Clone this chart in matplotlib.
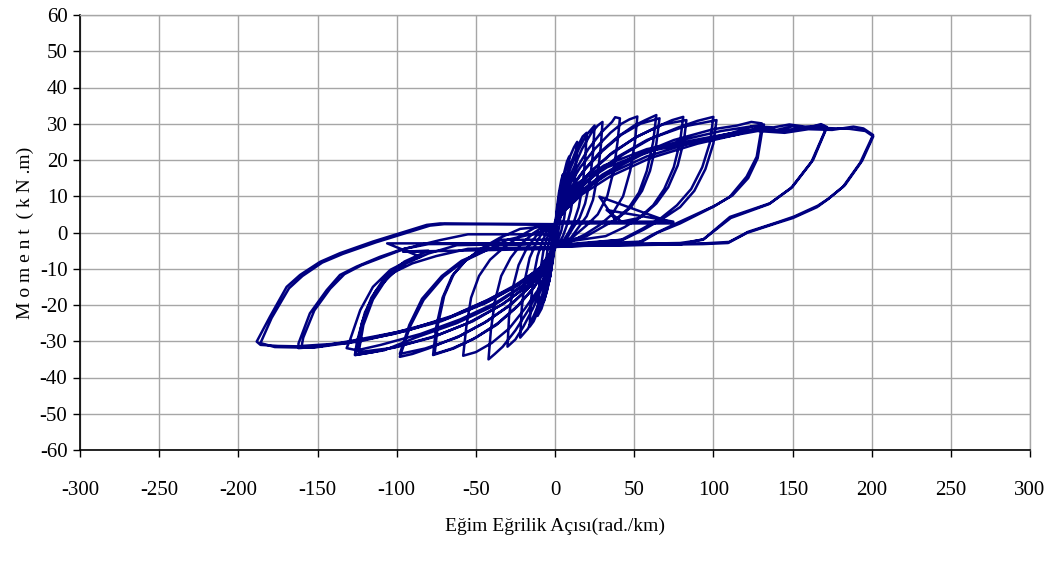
import matplotlib
matplotlib.use("Agg")
import matplotlib.pyplot as plt

# Moment-curvature record, one list of (curvature, moment) vertices per load cycle.
# Curvature in rad/km, moment in kN.m.
start = [(0, 0)]
c01 = [(1, 6), (2.5, 11), (4, 14.5), (5, 16), (4.6, 11), (3.8, 6), (2.8, 2), (1.5, -1), (0, -2.5),
       (-1, -6), (-2.5, -10.5), (-3.5, -13), (-4, -14), (-3.6, -9), (-2.8, -5), (-1.8, -1.5), (-0.8, 1), (0, 2)]
c02 = [(1, 5), (3, 11), (5.5, 16), (7.5, 19.5), (9, 21), (8.5, 15), (7.3, 9), (5.8, 4), (4, 0.5), (2, -2), (0, -3),
       (-1.5, -7), (-3, -12), (-5, -16), (-6.3, -18), (-7, -19), (-6.6, -13), (-5.7, -8), (-4.3, -3.5), (-2.5, 0),
       (-1, 1.5), (0, 2)]
c03 = [(1, 4), (3, 10), (6, 16), (9, 20.5), (12, 23.5), (14, 25), (13.3, 19), (12, 12), (10, 6), (7.5, 2), (5, -1),
       (2.5, -3), (0, -3.5), (-1.5, -8), (-3.5, -13), (-6, -17.5), (-8.5, -21), (-11, -23), (-10.4, -17),
       (-9.2, -10.5), (-7.5, -5.5), (-5.5, -2), (-3, 0.8), (0, 2)]
c04 = [(1, 4), (3, 9), (6, 14), (10, 19), (14, 23.5), (17.5, 26.5), (20, 27.5), (19.2, 21), (17.5, 13), (15, 7),
       (12, 3), (8.5, 0), (5, -2.5), (0, -3.5), (-1.5, -7), (-4, -12.5), (-7, -17), (-10.5, -21.5), (-13.5, -24.5),
       (-16, -26), (-15.2, -19), (-13.5, -12), (-11, -6.5), (-8, -2.5), (-5, 0.5), (-2, 2), (0, 2.3)]
c05 = [(1, 4), (3, 8), (6, 13), (10, 18), (15, 23), (20, 27), (25, 29.5), (24, 22), (22, 14), (19, 8), (15.5, 4),
       (11, 1), (7, -2), (0, -3), (-2, -7), (-4.5, -12), (-8, -17), (-12.5, -22), (-17, -26.5), (-22, -29),
       (-21, -21), (-19, -13), (-16, -7), (-12, -3), (-8, 0), (-4, 2), (0, 2.2)]
c06 = [(1, 3), (3, 8), (7, 13), (12, 18), (17, 23), (23, 27.5), (27, 29.5), (30, 30.5), (29, 24), (27, 16), (24, 9),
       (20, 4.5), (15, 1.5), (10, -1.5), (5, -3), (0, -3.5), (-2, -6), (-5, -11), (-9, -16), (-14, -21), (-20, -26),
       (-25, -29.5), (-30, -31.5), (-29, -23), (-26.5, -15), (-23, -9), (-18, -4.5), (-12, -1), (-6, 1.5), (0, 2.3)]
c07 = [(1, 3), (3.5, 8), (8, 13), (14, 18), (21, 23), (29, 27.5), (36, 30.5), (38, 31.8), (41, 31.5), (39.5, 25),
       (37, 17), (33, 10), (27, 5), (20, 2), (12, -1), (6, -3), (0, -3.5), (-2, -6), (-5, -11), (-10, -16),
       (-17, -21.5), (-25, -27), (-33, -31.5), (-38, -33.5), (-42, -35), (-40.5, -27), (-38, -19), (-34, -12),
       (-28, -7), (-21, -3), (-13, 0), (-6, 2), (0, 2.3)]
c08 = [(1, 3), (4, 8), (9, 13), (16, 18), (25, 23), (35, 27.5), (42, 30), (47, 31.2), (52, 32), (50.5, 25),
       (47.5, 17), (43, 10), (36, 5), (28, 2), (19, -0.5), (10, -2.5), (0, -3), (-2, -6), (-5, -10.5), (-11, -16),
       (-19, -21), (-29, -26.5), (-40, -30.5), (-50, -33), (-58, -34), (-56, -26), (-53, -18), (-48, -12),
       (-41, -7.5), (-32, -4), (-22, -1), (-12, 1.5), (0, 2.2)]
c09 = [(1, 3), (4, 7), (10, 12), (18, 17), (28, 22), (40, 26.5), (50, 29.5), (57, 31), (64, 32.4), (62, 25),
       (58, 17), (53, 11), (46, 6.5), (38, 3.5), (28, 9.9), (75, 2.5), (0, 2.5), (-2, -5.5), (-6, -10), (-13, -15),
       (-23, -20), (-36, -25), (-50, -29), (-64, -32), (-77, -33.8), (-75, -26), (-71, -18), (-65, -12), (-57, -8),
       (-47, -4.5), (-35, -1.5), (-22, 1), (0, 2)]
c09b = [(1, 3), (4, 7.5), (10, 12.5), (19, 17.5), (30, 22.5), (42, 27), (54, 30), (66, 31.5), (64, 24.5),
        (60, 17), (55, 11.5), (48, 7), (40, 4), (30, 1.5), (20, -1), (0, -3), (-2, -6), (-6, -10.5), (-14, -15.5),
        (-24, -20.5), (-37, -25.5), (-52, -29.5), (-65, -32), (-76, -33.5), (-74, -25.5), (-70, -17.5),
        (-64, -11.5), (-56, -7.5), (-46, -4.5), (-34, -2), (0, -2)]
c10 = [(1, 3), (5, 7), (12, 11.5), (22, 16.5), (35, 21.5), (50, 26), (66, 29.5), (74, 31), (81, 31.9), (79, 25),
       (75, 18), (69, 12), (62, 7.5), (53, 4), (42, 3), (32.6, 6.2), (74.7, 3), (0, 3), (-2, -5), (-7, -10),
       (-15, -14.5), (-27, -19.5), (-43, -24.5), (-60, -28.5), (-80, -32), (-90, -33.5), (-98, -34.3),
       (-91.6, -26), (-83, -18.6), (-70.5, -12.2), (-58, -8), (-47, -5.7), (-30, -2), (0, 1)]
c10b = [(1, 3), (5, 7.5), (12, 12), (23, 17), (36, 22), (52, 26.5), (68, 29.8), (83, 31), (81.5, 25.5),
        (77.5, 18.5), (71.5, 12.5), (64, 8), (55, 4.5), (44, 1.5), (32, -1), (0, -3), (-2, -5.5), (-7, -10.5),
        (-16, -15), (-28, -20), (-45, -25), (-62, -29), (-82, -32), (-98, -33.5), (-92, -25.5), (-84, -18.3),
        (-71.5, -12), (-59, -7.8), (-47, -5.5), (-35, -3.5), (0, -3)]
c11 = [(1, 3), (5, 6.5), (13, 11), (25, 16), (40, 21), (58, 25.5), (78, 29), (90, 30.8), (100, 31.9), (98, 25),
       (93, 18), (86, 12), (77, 7.5), (67, 4), (55, 1), (42, -2), (0, -3.5), (-2, -5), (-7, -9.5), (-17, -14.5),
       (-32, -19.5), (-52, -24.5), (-75, -28.5), (-100, -31.5), (-115, -33), (-126, -33.8), (-122, -25),
       (-116, -18), (-107, -12), (-95, -8), (-80, -5), (-96, -5.3), (0, -4.5)]
c11b = [(1, 3), (5, 7), (14, 11.5), (27, 16.5), (43, 21.5), (61, 26), (82, 29.3), (102, 31), (100, 24.5),
        (95, 17.5), (88, 11.5), (79, 7), (68, 3.8), (56, 0.8), (43, -2), (0, -3.8), (-2, -5.5), (-8, -10),
        (-18, -15), (-34, -20), (-55, -25), (-78, -29), (-102, -31.8), (-124, -33), (-121, -25.5), (-115, -18.5),
        (-106, -12.5), (-94, -8.5), (-80, -5.8), (-62, -3.5), (0, -3)]
c12 = [(1, 3), (6, 6.5), (15, 11), (30, 16), (50, 21), (75, 25.5), (100, 28.5), (115, 29.5), (124, 30.5),
       (130.6, 30.1), (130.6, 29.2), (127.4, 20.9), (121, 15.4), (110.5, 9.9), (100, 7.1), (89.5, 4.8), (79, 2.5),
       (65, 0), (55, -2.5), (0, -3.5), (-2, -5), (-8, -9.5), (-20, -14.5), (-38, -19.5), (-60, -24), (-85, -28),
       (-110, -31), (-125, -32.5), (-131.6, -31.9), (-129.5, -29.7), (-123, -21.4), (-115, -15), (-104, -10.3),
       (-93.7, -8), (-85, -6.7), (-106, -3), (0, -3)]
c12b = [(1, 3), (7, 6.5), (18, 11.5), (35, 17), (55, 21.5), (80, 25.5), (105, 28), (120, 29), (132, 29.8),
        (131, 28.5), (128, 20.5), (122, 15), (112, 10.2), (101, 7.4), (90, 5.2), (78, 2.8), (62, -0.5), (52, -3),
        (0, -4), (-2, -5.5), (-8, -10), (-21, -15), (-40, -20.5), (-62, -25), (-88, -29), (-108, -32.5),
        (-126.4, -33.8), (-125, -30), (-120, -22), (-113, -16), (-102, -11), (-90, -8.5), (-75, -6.5),
        (-55, -4.5), (0, -4)]
c13 = [(1, 3), (6, 6), (17, 10.5), (35, 15.5), (60, 20.5), (90, 24.5), (115, 27), (128, 28.8), (140, 28.3),
       (150, 29.3), (160, 28.9), (168, 29.9), (171.8, 29.1), (163, 20), (150, 12.6), (136, 8.1), (110.5, 4.3),
       (93.5, -2), (79, -2.9), (0, -3.5), (-2, -5), (-9, -9.5), (-22, -14), (-42, -19), (-70, -24), (-100, -27.5),
       (-130, -30), (-150, -31.5), (-162, -31.9), (-162, -30.6), (-154.8, -22.3), (-144.2, -15.9),
       (-135.8, -11.7), (-125.3, -9.4), (-110.5, -6.7), (-97.9, -4.8), (-81, -3), (-72.6, -2.1), (-55, -0.5),
       (0, -0.5)]
c13b = [(1, 3), (6, 6.5), (16, 11), (33, 16), (58, 21), (88, 25), (112, 27.5), (125, 29.3), (138, 29),
        (148, 29.8), (158, 29.2), (169.5, 29.5), (170.5, 28), (162, 19.5), (149, 12.2), (135, 7.8), (111, 4),
        (94, -1.8), (80, -3.2), (0, -3.8), (-2, -5.5), (-9, -10), (-23, -14.5), (-44, -19.5), (-72, -24.5),
        (-102, -28), (-132, -30.5), (-160, -31.3), (-159, -29), (-152, -21.5), (-142, -15.5), (-133, -11.5),
        (-122, -9), (-107, -6.5), (-95, -4.5), (-80, -3.2), (0, -3)]
c14 = [(1, 3), (5, 8), (15, 13), (33, 18), (60, 22.5), (96, 25.5), (128, 28), (145, 27.5), (160, 28.5),
       (175, 28.3), (188.5, 29.2), (194.8, 28.7), (200.9, 26.9), (192.7, 19.2), (181.9, 12.6), (171.8, 9.0),
       (165.5, 7.0), (150.3, 4.0), (140.2, 2.6), (121.3, -0.1), (109.3, -2.9), (93.5, -3.2), (0, -3.8), (-2, -5),
       (-10, -10), (-25, -14.5), (-42, -18.5), (-65, -23), (-90, -26.5), (-120, -29.5), (-150, -31.5),
       (-175, -31.3), (-186, -31), (-188.4, -30.1), (-180, -23.2), (-169.5, -15.0), (-161, -11.7),
       (-148.4, -8.1), (-135.8, -5.7), (-115, -2.5), (-97.9, -0.2), (-81, 2.1), (-72.6, 2.5), (0, 2.3)]
c14b = [(1, 3), (5, 8.5), (14, 13.5), (31, 18.5), (58, 23), (94, 26), (126, 28.5), (142, 28), (158, 29),
        (172, 28.8), (186, 28.6), (196, 28), (201, 26.5), (194, 19.8), (183, 13), (173, 9.4), (166, 7.4),
        (151, 4.4), (141, 2.9), (122, 0.2), (110, -2.6), (94, -3), (0, -3.5), (-2, -5.5), (-10, -10.5),
        (-26, -15), (-44, -19), (-67, -23.5), (-93, -27), (-123, -30), (-153, -31.8), (-177, -31.6),
        (-186, -30.5), (-179, -23.6), (-168, -15.4), (-159.5, -12), (-147, -8.3), (-134, -5.9), (-113, -2.7),
        (-96, -0.4), (-79, 1.9), (-70, 2.3), (0, 2.2)]

cycles = [start, c01, c02, c03, c04, c05, c06, c07, c08, c09, c09b, c10, c10b,
          c11, c11b, c12, c12b, c13, c13b, c14, c14b]

x_ticks = [-300, -250, -200, -150, -100, -50, 0, 50, 100, 150, 200, 250, 300]
y_ticks = [-60, -50, -40, -30, -20, -10, 0, 10, 20, 30, 40, 50, 60]

curvature = [p[0] for cyc in cycles for p in cyc]
moment = [p[1] for cyc in cycles for p in cyc]

plt.rcParams['font.family'] = ['Liberation Serif', 'DejaVu Serif']

fig = plt.figure(figsize=(10.59, 5.61), dpi=100)
ax = fig.add_axes([80 / 1059, 1 - 450 / 561, 950 / 1059, 435 / 561])

ax.plot(curvature, moment, color='#000080', lw=1.8, solid_joinstyle='round', zorder=3)

ax.set_xlim(-300, 300)
ax.set_ylim(-60, 60)
ax.set_xticks(x_ticks)
ax.set_yticks(y_ticks)
ax.set_xticklabels([str(v) for v in x_ticks])
ax.set_yticklabels([str(v) for v in y_ticks])
ax.grid(True, color='#a6a6a6', lw=1.0, zorder=0)
ax.set_axisbelow(True)

for side in ('top', 'right'):
    ax.spines[side].set_color('#a6a6a6')
    ax.spines[side].set_linewidth(1.0)
for side in ('left', 'bottom'):
    ax.spines[side].set_color('black')
    ax.spines[side].set_linewidth(1.2)

ax.tick_params(axis='both', direction='out', length=5, width=1.0, colors='black', labelsize=15)
ax.tick_params(axis='x', pad=17)
ax.tick_params(axis='y', pad=4)

ax.set_xlabel('Eğim Eğrilik Açısı(rad./km)', fontsize=14, labelpad=13)
ax.set_ylabel('M o m e n t  ( k N .m)', fontsize=14, labelpad=4)

fig.savefig('out.png', dpi=100)
